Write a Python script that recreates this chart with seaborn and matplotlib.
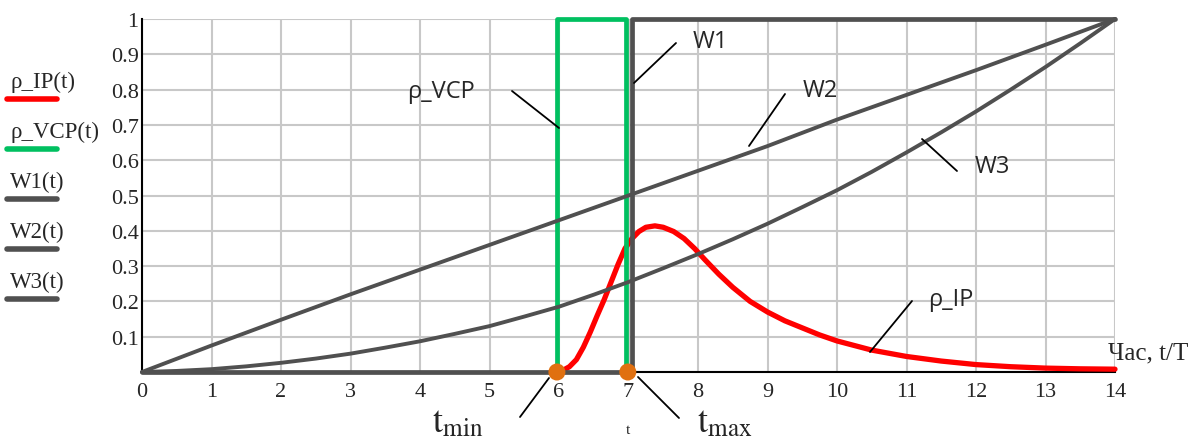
import matplotlib
matplotlib.use('Agg')
import matplotlib.pyplot as plt
from matplotlib.lines import Line2D
import seaborn as sns

# --- data ---
t_grid = [0, 1, 2, 3, 4, 5, 6, 7, 8, 9, 10, 11, 12, 13, 14]
w2_vals = [0, 0.075, 0.148, 0.22, 0.29, 0.36, 0.43, 0.5, 0.57, 0.64, 0.715, 0.785, 0.855, 0.927, 1.0]

w3_t = [0, 0.5, 1, 1.5, 2, 2.5, 3, 3.5, 4, 4.5, 5, 5.5, 6, 6.5, 7, 7.5, 8, 8.5, 9, 9.5,
        10, 10.5, 11, 11.5, 12, 12.5, 13, 13.5, 14]
w3_vals = [0, 0.003, 0.008, 0.016, 0.026, 0.038, 0.052, 0.069, 0.087, 0.108, 0.13, 0.157,
           0.185, 0.219, 0.255, 0.294, 0.334, 0.376, 0.42, 0.467, 0.515, 0.567, 0.622,
           0.679, 0.738, 0.8, 0.864, 0.931, 1.0]

w1_t = [0, 7.05, 7.05, 14]
w1_vals = [0, 0, 1, 1]

vcp_t = [5.97, 5.97, 6.97, 6.97]
vcp_vals = [0, 1, 1, 0]

ip_t = [5.97, 6.05, 6.15, 6.25, 6.35, 6.45, 6.55, 6.65, 6.75, 6.85, 6.95, 7.05, 7.15, 7.25,
        7.38, 7.5, 7.65, 7.8, 7.95, 8.1, 8.3, 8.5, 8.75, 9.0, 9.25, 9.5, 9.75, 10, 10.5,
        11, 11.5, 12, 12.5, 13, 13.5, 14]
ip_vals = [0, 0.004, 0.015, 0.035, 0.07, 0.113, 0.16, 0.205, 0.255, 0.305, 0.35, 0.378,
           0.398, 0.41, 0.414, 0.41, 0.398, 0.378, 0.35, 0.318, 0.277, 0.24, 0.2, 0.17,
           0.145, 0.125, 0.105, 0.088, 0.062, 0.044, 0.031, 0.021, 0.015, 0.011, 0.009, 0.008]

t_min = 5.97
t_max = 6.99

x_ticks = list(range(0, 15))
y_ticks = [0, 0.1, 0.2, 0.3, 0.4, 0.5, 0.6, 0.7, 0.8, 0.9, 1.0]
y_labels = ['', '0.1', '0.2', '0.3', '0.4', '0.5', '0.6', '0.7', '0.8', '0.9', '1']

legend_names = ['ρ_IP(t)', 'ρ_VCP(t)', 'W1(t)', 'W2(t)', 'W3(t)']

RED = '#ff0000'
GREEN = '#00c060'
DARK = '#505050'
ORANGE = '#e07010'

sns.set_style('white')
plt.rcParams['font.family'] = ['Liberation Serif', 'DejaVu Serif']
plt.rcParams['mathtext.fontset'] = 'stix'

W, H = 1200, 439
fig = plt.figure(figsize=(W / 100, H / 100), dpi=100)
ax = fig.add_axes([142 / W, 66 / H, 973 / W, 353 / H])


def fp(x, y):
    # pixel position in the picture -> figure fraction
    return x / W, 1 - y / H


# curves, drawn in the Mathcad trace order
sns.lineplot(x=ip_t, y=ip_vals, sort=False, estimator=None, color=RED, lw=3.8, ax=ax, zorder=3)
sns.lineplot(x=vcp_t, y=vcp_vals, sort=False, estimator=None, color=GREEN, lw=3.4, ax=ax, zorder=4)
sns.lineplot(x=w1_t, y=w1_vals, sort=False, estimator=None, color=DARK, lw=3.4, ax=ax, zorder=5)
sns.lineplot(x=t_grid, y=w2_vals, sort=False, estimator=None, color=DARK, lw=2.8, ax=ax, zorder=6)
sns.lineplot(x=w3_t, y=w3_vals, sort=False, estimator=None, color=DARK, lw=2.8, ax=ax, zorder=7)
for ln in ax.lines:
    ln.set_clip_on(False)
    ln.set_solid_joinstyle('round')

sns.scatterplot(x=[t_min, t_max], y=[0, 0], color=ORANGE, s=150, edgecolor='none',
                ax=ax, zorder=10, clip_on=False)

ax.set_xlim(0, 14)
ax.set_ylim(0, 1)
ax.set_xticks(x_ticks)
ax.set_yticks(y_ticks)
ax.set_yticklabels(y_labels)
ax.grid(True, color='#c8c8c8', lw=1.5)
ax.set_axisbelow(True)
for s in ['top', 'right']:
    ax.spines[s].set_visible(False)
for s in ['left', 'bottom']:
    ax.spines[s].set_color('black')
    ax.spines[s].set_linewidth(1.5)
    ax.spines[s].set_zorder(2)
ax.tick_params(direction='inout', length=9, width=1.5, color='black', labelsize=16)
ax.tick_params(axis='y', pad=-2)
ax.tick_params(axis='x', pad=3)

# left legend (Mathcad style)
legend_colors = [RED, GREEN, DARK, DARK, DARK]
for i, (name, col) in enumerate(zip(legend_names, legend_colors)):
    ty = 82 + 50 * i
    fig.text(*fp(10, ty), name, fontsize=16.5, ha='left', va='center')
    x0, y0 = fp(7, ty + 18)
    x1, _ = fp(57, ty + 18)
    fig.add_artist(Line2D([x0, x1], [y0, y0], color=col, lw=4, transform=fig.transFigure))

# callouts
sans = ['Open Sans', 'DejaVu Sans']
callouts = [
    ('ρ_VCP', (407, 92), (512, 92), (559, 129)),
    ('W1', (693, 42), (676, 44), (634, 84)),
    ('W2', (803, 91), (785, 95), (749, 147)),
    ('W3', (975, 167), (957, 172), (922, 140)),
    ('ρ_IP', (928, 300), (912, 302), (870, 353)),
]
for label, tpos, a, b in callouts:
    fig.text(*fp(*tpos), label, family=sans, fontsize=17, ha='left', va='center')
    xa, ya = fp(*a)
    xb, yb = fp(*b)
    fig.add_artist(Line2D([xa, xb], [ya, yb], color='black', lw=1.3, transform=fig.transFigure))

# t_min / t_max marks
fig.text(*fp(432, 432), r'$\mathrm{t}_{\mathrm{min}}$', fontsize=26, ha='left', va='baseline')
fig.text(*fp(697, 432), r'$\mathrm{t}_{\mathrm{max}}$', fontsize=26, ha='left', va='baseline')
for a, b in [((549, 379), (520, 418)), ((638, 378), (679, 419))]:
    xa, ya = fp(*a)
    xb, yb = fp(*b)
    fig.add_artist(Line2D([xa, xb], [ya, yb], color='black', lw=1.3, transform=fig.transFigure))

fig.text(*fp(628, 424), 't', fontsize=11, ha='center', va='top')
fig.text(*fp(1108, 353), 'Час, t/T', fontsize=18, ha='left', va='center')

fig.savefig('out.png', dpi=100)
